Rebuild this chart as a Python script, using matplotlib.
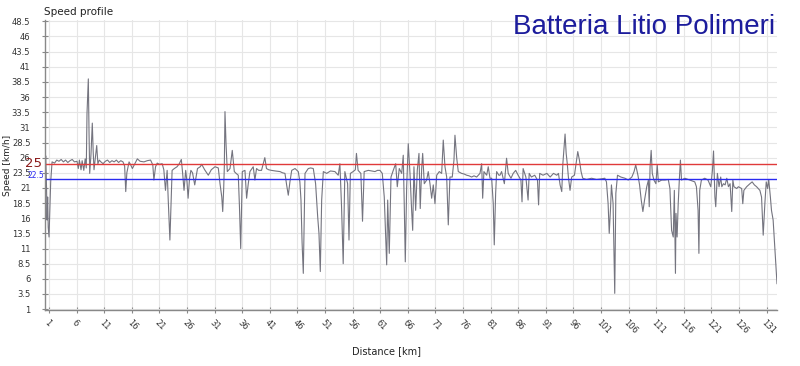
import numpy as np
import matplotlib
matplotlib.use("Agg")
from matplotlib import pyplot as plt

# distance [km] / speed [km/h], five stretches
km_a = [0.25, 0.4, 0.55, 0.64, 0.75, 0.85, 1.0, 1.15, 1.3, 1.55, 2.0, 2.4, 2.8, 3.2, 3.6, 4.0, 4.4, 4.8,
        5.2, 5.6, 6.07, 6.3, 6.5, 6.8, 7.0, 7.3, 7.55, 7.75, 7.88, 8.12, 8.25, 8.37, 8.6, 8.84, 9.0, 9.15,
        9.4, 9.64, 9.85, 10.1, 10.4, 10.8, 11.2, 11.6, 12.0, 12.4, 12.8, 13.2, 13.6, 14.0, 14.4, 14.7,
        14.9, 15.1, 15.5, 15.8, 16.1, 16.5, 17.0, 17.5, 18.2, 18.8, 19.4, 19.8, 20.0, 20.3, 20.6, 21.0,
        21.5, 21.8, 22.1, 22.4, 22.6, 22.9, 23.1, 23.3, 23.7, 24.2, 24.6, 24.97, 25.2, 25.46, 25.76, 26.0,
        26.2, 26.45, 26.7, 27.0, 27.4, 27.9, 28.4]
sp_a = [24.5, 26.3, 21.0, 15.7, 19.5, 14.5, 12.9, 17.5, 22.0, 25.3, 25.1, 25.6, 25.4, 25.7, 25.3, 25.6, 25.2, 25.5,
        25.7, 25.3, 25.4, 24.2, 25.6, 24.0, 25.5, 23.9, 25.8, 24.3, 33.3, 39.0, 30.0, 23.4, 26.5, 31.7, 27.0, 24.0,
        26.0, 28.0, 25.0, 25.6, 25.3, 25.0, 25.4, 25.6, 25.2, 25.5, 25.3, 25.6, 25.2, 25.5, 25.3, 24.6,
        20.4, 23.5, 25.3, 24.8, 24.2, 24.9, 25.8, 25.4, 25.3, 25.5, 25.6, 24.8, 22.3, 24.5, 25.1, 24.9,
        25.0, 24.0, 20.6, 23.9, 19.0, 12.4, 18.0, 23.9, 24.2, 24.5, 25.0, 25.7, 23.5, 20.6, 23.9, 22.0,
        19.3, 22.5, 23.9, 23.5, 21.5, 24.2, 24.5]

km_b = [28.66, 29.2, 29.86, 30.4, 31.07, 31.67, 31.98, 32.3, 32.47, 32.65, 32.76, 32.88, 33.07, 33.3, 33.79,
        34.2, 34.57, 34.9, 35.29, 35.5, 35.73, 35.9, 36.02, 36.5, 36.8, 37.1, 37.4, 38.0, 38.3, 38.6, 39.0,
        39.5, 40.1, 40.4, 40.8, 41.3, 42.0, 42.85, 43.3, 43.75, 44.05, 44.35, 44.65, 44.97, 45.57, 46.16,
        46.45, 46.65, 46.85, 47.07, 47.2, 47.38, 47.97, 48.4, 48.88, 49.3, 49.68, 49.91, 50.15, 50.4, 50.7,
        51.3, 52.0, 52.8, 53.4, 53.7, 54.0, 54.3, 54.6]
sp_b = [24.9, 24.0, 23.1, 24.0, 24.5, 24.3, 21.7, 19.5, 17.1, 21.0, 24.5, 33.6, 28.3, 23.7, 24.2,
        27.2, 23.7, 23.4, 23.1, 18.0, 11.0, 19.0, 23.7, 23.9, 19.3, 21.7, 23.7, 24.5, 22.3, 24.2, 23.9,
        23.9, 26.0, 24.2, 24.0, 23.9, 23.8, 23.7, 23.5, 23.4, 21.5, 19.8, 22.0, 23.9, 24.2, 23.7,
        22.0, 19.0, 12.0, 6.9, 14.0, 23.4, 24.2, 24.3, 24.2, 21.7, 16.2, 13.5, 7.2, 19.0, 23.7,
        23.4, 23.8, 23.7, 23.1, 25.0, 17.9, 8.5, 23.7]

km_c = [55.1, 55.35, 55.6, 56.1, 56.5, 56.7, 57.0, 57.5, 57.8, 58.1, 58.85, 59.5, 60.06, 60.5, 60.96, 61.38,
        61.74, 62.0, 62.18, 62.36, 62.65, 62.96, 63.37, 63.81, 64.1, 64.46, 64.9, 65.18, 65.36, 65.55, 65.8,
        66.09, 66.4, 66.7, 66.89, 67.12, 67.43, 67.72, 68.03, 68.26, 68.52, 68.7, 68.99, 69.42, 69.71, 70.02,
        70.33, 70.62, 70.93, 71.24, 71.71, 72.14, 72.43, 72.74, 73.05, 73.34, 73.64, 74.06, 74.37, 74.55,
        74.86, 75.15, 75.76, 76.2, 76.67, 77.1, 77.57, 78.0, 78.48, 79.08, 79.39, 79.57, 79.8, 80.3, 80.58,
        80.9, 81.2, 81.49, 81.67, 81.8, 81.92, 82.1, 82.5]
sp_c = [21.7, 12.4, 23.4, 23.7, 24.0, 26.7, 23.9, 23.4, 15.5, 23.7, 23.9, 23.8, 23.7, 23.9, 23.9, 23.4,
        19.5, 12.9, 8.3, 19.0, 10.2, 22.8, 23.9, 25.0, 21.2, 24.2, 23.4, 26.4, 18.4, 8.8, 21.2,
        28.3, 23.4, 17.3, 14.0, 24.5, 17.3, 23.9, 26.7, 17.6, 24.2, 26.7, 21.7, 22.3, 23.7, 21.7,
        19.3, 21.5, 18.4, 23.1, 23.7, 23.4, 28.9, 24.5, 22.8, 14.9, 22.8, 22.8, 25.6, 29.7,
        26.0, 23.7, 23.4, 23.3, 23.1, 23.0, 22.8, 23.0, 22.8, 23.4, 25.0, 19.3, 23.7, 23.1, 24.5,
        22.6, 22.6, 18.4, 11.6, 15.7, 20.1, 23.7, 23.1]

km_d = [82.7, 83.0, 83.5, 83.9, 84.2, 84.7, 85.1, 85.55, 86.0, 86.5, 86.7, 86.9, 87.4, 87.8, 88.0, 88.4, 89.0,
        89.5, 89.7, 89.9, 90.5, 91.2, 91.8, 92.4, 93.0, 93.3, 93.6, 93.9, 94.1, 94.3, 94.5, 94.7, 94.9, 95.1,
        95.4, 95.7, 96.2, 96.5, 96.8, 97.1, 97.4, 97.7, 98.4, 99.3, 100.2, 101.1, 101.7, 102.0, 102.3, 102.5,
        102.75, 102.9, 103.2, 103.5, 103.7, 104.0, 104.6, 105.35, 105.95, 106.6, 107.0, 107.3, 107.7, 108.0,
        108.3, 108.6, 108.9, 109.3, 109.6, 109.75, 109.9]
sp_d = [23.1, 23.7, 21.7, 25.9, 23.4, 22.6, 23.4, 23.9, 23.1, 22.3, 18.7, 24.2, 22.8, 19.0, 23.4, 22.8, 23.1,
        22.3, 18.2, 23.4, 23.1, 23.4, 22.8, 23.4, 23.1, 23.4, 21.5, 20.4, 25.0, 27.5, 29.9, 26.7, 25.0, 22.8,
        20.6, 22.8, 23.1, 25.0, 27.0, 25.6, 23.7, 22.6, 22.4, 22.6, 22.4, 22.5, 22.6, 22.0, 18.4, 13.5,
        17.9, 21.5, 18.4, 3.6, 20.1, 23.1, 22.8, 22.6, 22.3, 22.8, 23.7, 24.8, 23.1, 21.5,
        19.0, 17.1, 19.0, 21.2, 22.3, 17.9, 24.5]

km_e = [110.1, 110.3, 110.6, 110.96, 111.2, 111.4, 112.0, 112.6, 113.2, 113.5, 113.8, 114.1, 114.3, 114.5,
        114.6, 114.8, 115.0, 115.2, 115.4, 115.6, 116.2, 117.1, 118.0, 118.3, 118.6, 118.75, 118.9, 119.2,
        119.8, 120.4, 120.9, 121.2, 121.4, 121.65, 121.8, 122.1, 122.4, 122.7, 122.9, 123.2, 123.5, 123.8,
        124.1, 124.4, 124.7, 124.9, 125.1, 125.6, 125.9, 126.5, 126.7, 126.9, 127.4, 128.0, 128.4, 128.8,
        129.2, 129.8, 130.1, 130.4, 130.7, 130.95, 131.2, 131.4, 131.7, 131.9, 132.2, 132.5, 132.7, 132.9]
sp_e = [27.2, 23.4, 22.3, 21.7, 24.8, 22.0, 22.3, 22.3, 22.4, 20.9, 14.0, 12.9, 20.6, 6.9,
        16.8, 12.9, 18.4, 22.3, 25.6, 22.3, 22.6, 22.3, 22.0, 21.2, 17.3, 10.2, 20.6, 22.3,
        22.6, 22.3, 21.2, 23.9, 27.1, 19.5, 17.9, 23.4, 21.2, 22.8, 21.2, 21.7, 21.5, 22.6,
        21.2, 21.7, 17.1, 22.3, 21.2, 20.9, 21.2, 20.9, 18.4, 20.6, 21.2, 21.7, 22.0, 21.5,
        21.2, 20.6, 19.5, 13.2, 18.4, 22.0, 20.9, 22.4, 19.5, 17.3, 15.7, 11.3, 8.5, 5.2]

km = km_a + km_b + km_c + km_d + km_e
speed = sp_a + sp_b + sp_c + sp_d + sp_e

x_ticks = list(range(1, 132, 5))
y_ticks = [1 + 2.5 * i for i in range(20)]
ref_high = 25
ref_low = 22.5

fig = plt.figure(figsize=(8, 3.66), dpi=100)
ax = fig.add_axes([0.05625, 0.153, 0.915, 0.792])

ax.plot(km, speed, color="#74747f", lw=0.8)
ax.axhline(ref_high, color="#e03a3a", lw=1.0)
ax.axhline(ref_low, color="#2a2af0", lw=1.0)

ax.set_xlim(0.27, 132.9)
ax.set_ylim(0.85, 48.7)
ax.set_xticks(x_ticks)
ax.set_yticks(y_ticks)
ax.set_yticklabels([("%g" % v) for v in y_ticks])
ax.tick_params(axis="both", labelsize=6, colors="#888888", labelcolor="#333333",
               direction="inout", length=5, width=0.8)
ax.tick_params(axis="y", pad=8)
plt.setp(ax.get_xticklabels(), rotation=-45, ha="left", rotation_mode="anchor")
ax.grid(True, color="#e6e6e6", lw=0.8)
ax.set_axisbelow(True)
for s in ["top", "right"]:
    ax.spines[s].set_visible(False)
for s in ["left", "bottom"]:
    ax.spines[s].set_color("#888888")
    ax.spines[s].set_linewidth(1.0)

ax.set_xlabel("Distance [km]", fontsize=7, color="#222222")
ax.set_ylabel("Speed [km/h]", fontsize=6.5, color="#222222")
ax.xaxis.set_label_coords(0.467, -0.124)
ax.yaxis.set_label_coords(-0.045, 0.5)

fig.text(0.055, 0.982, "Speed profile", fontsize=7.5, color="#222222", va="top")
fig.text(0.969, 0.925, "Batteria Litio Polimeri", fontsize=20, color="#1c1c9c",
         family="Liberation Sans", ha="right", va="center")
ax.text(-0.004, ref_high, "25", transform=ax.get_yaxis_transform(), fontsize=9.5,
        color="#8b1a1a", ha="right", va="center")
ax.text(-0.001, ref_low + 0.6, "22.5", transform=ax.get_yaxis_transform(), fontsize=5.5,
        color="#2a2af0", ha="right", va="center")

plt.savefig("out.png", dpi=100)
